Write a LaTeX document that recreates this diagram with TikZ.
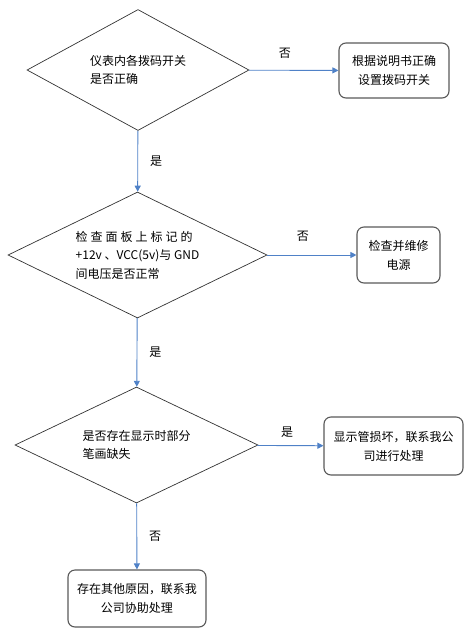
\documentclass[tikz,border=0pt]{standalone}
\usepackage{fontspec}
\newfontfamily\cjk{Noto Sans CJK SC}
\usetikzlibrary{shapes.geometric,arrows.meta}
\definecolor{flowblue}{RGB}{79,129,199}
\tikzset{
  question/.style={diamond,aspect=2,draw=black!80,line width=0.7pt,inner sep=0pt,
    align=left,font=\cjk\fontsize{12}{18.5}\selectfont},
  answer/.style={rectangle,rounded corners=7pt,draw=black!65,line width=1.1pt,
    inner sep=0pt,align=center,font=\cjk\fontsize{12}{19}\selectfont},
  flow/.style={draw=flowblue,line width=0.9pt,-{Triangle[length=6pt,width=6pt]}},
  yesno/.style={inner sep=0pt,font=\cjk\fontsize{12}{14}\selectfont}
}
\begin{document}
\begin{tikzpicture}[x=1pt,y=-1pt]
\useasboundingbox (0,0) rectangle (472,638);
% questions
\node[question,minimum width=222pt,minimum height=121pt] (q1) at (138,70)
  {仪表内各拨码开关\\是否正确};
\node[question,minimum width=259pt,minimum height=126pt] (q2) at (137.5,255)
  {{\addfontfeatures{LetterSpace=25}检查面板上标记的}\\+12v 、VCC(5v)与 GND\\间电压是否正常};
\node[question,minimum width=243pt,minimum height=116pt] (q3) at (136.5,445)
  {是否存在显示时部分\\笔画缺失};
% answers
\node[answer,minimum width=110pt,minimum height=55pt] (fix1) at (394,70.5)
  {根据说明书正确\\设置拨码开关};
\node[answer,minimum width=83pt,minimum height=56pt] (fix2) at (398.5,255)
  {检查并维修\\电源};
\node[answer,minimum width=139pt,minimum height=58pt] (fix3) at (393.5,446)
  {显示管损坏，联系我公\\司进行处理};
\node[answer,minimum width=138pt,minimum height=57pt] (other) at (137,598.5)
  {存在其他原因，联系我\\公司协助处理};
% arrows
\draw[flow] (q1) -- node[yesno,pos=0.4,above=11pt] {否} (fix1);
\draw[flow] (q1) -- node[yesno,right=12pt] {是} (q2);
\draw[flow] (q2) -- node[yesno,pos=0.4,above=13pt] {否} (fix2);
\draw[flow] (q2) -- node[yesno,right=12pt] {是} (q3);
\draw[flow] (q3) -- node[yesno,pos=0.45,above=8pt] {是} (fix3);
\draw[flow] (q3) -- node[yesno,right=12pt] {否} (other);
\end{tikzpicture}
\end{document}
